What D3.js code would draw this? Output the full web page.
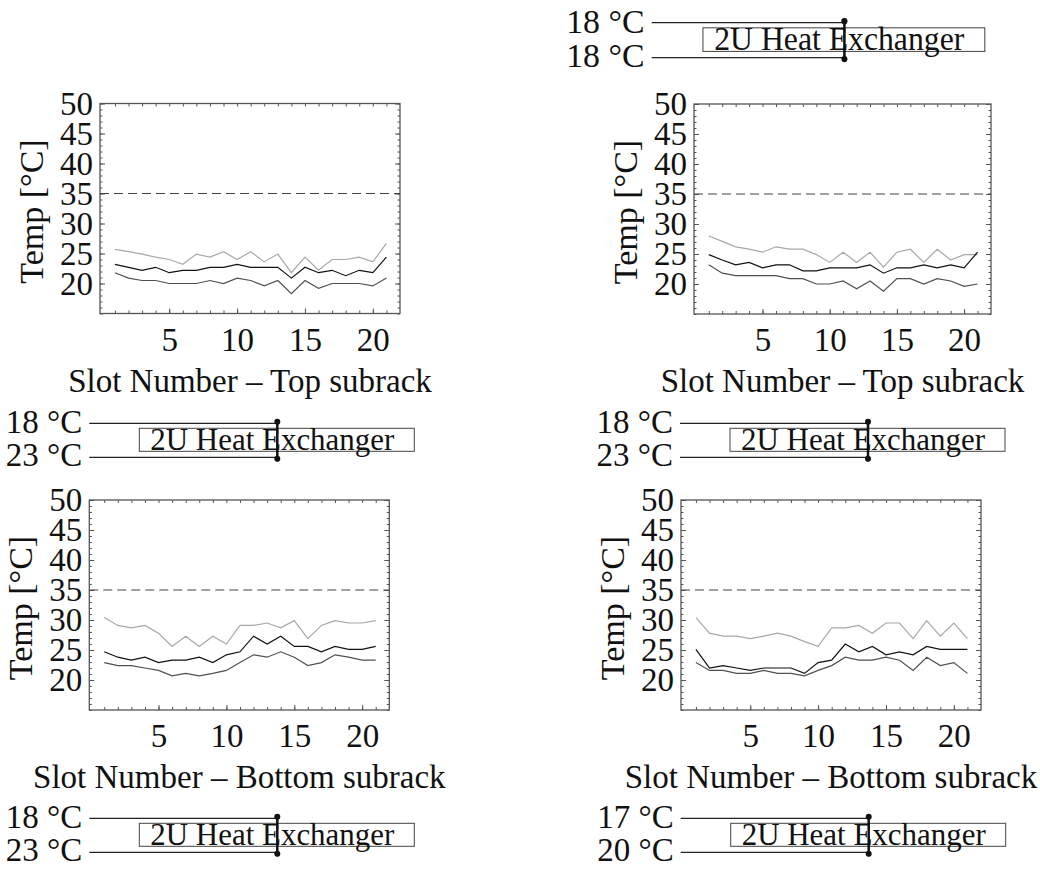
<!DOCTYPE html>
<html>
<head>
<meta charset="utf-8">
<script src="https://cdn.jsdelivr.net/npm/d3@7"></script>
<style>
  body { margin: 0; background: #fff; }
  text { font-family: "Liberation Serif", "Times New Roman", serif; fill: #111; }
</style>
</head>
<body>
<svg id="chart" width="1040" height="877"></svg>
<script>
// slot numbers on the x axis
const slots = [1, 2, 3, 4, 5, 6, 7, 8, 9, 10, 11, 12, 13, 14, 15, 16, 17, 18, 19, 20, 21];
const xTickLabels = [5, 10, 15, 20];
const yTickLabels = [20, 25, 30, 35, 40, 45, 50];
const limitTemp = 35;

// top subrack, left run
const topLeftMax = [25.7, 25.3, 24.9, 24.4, 24.0, 23.2, 24.9, 24.4, 25.3, 24.0, 25.3, 23.6, 24.9, 21.8, 24.4, 22.2, 24.0, 24.0, 24.4, 23.6, 26.7];
const topLeftAvg = [23.2, 22.7, 22.2, 22.7, 21.8, 22.2, 22.2, 22.7, 22.7, 23.2, 22.7, 22.7, 22.7, 20.9, 22.7, 21.8, 22.2, 21.3, 22.2, 21.8, 24.4];
const topLeftMin = [21.8, 20.9, 20.5, 20.5, 20.0, 20.0, 20.0, 20.5, 20.0, 20.9, 20.5, 19.6, 20.5, 18.3, 20.5, 19.2, 20.0, 20.0, 20.0, 19.6, 20.9];

// top subrack, right run
const topRightMax = [28.0, 27.1, 26.2, 25.8, 25.3, 26.2, 25.8, 25.8, 24.9, 23.6, 25.3, 23.6, 25.3, 22.8, 25.3, 25.8, 23.6, 25.8, 24.0, 24.9, 24.9];
const topRightAvg = [24.9, 24.0, 23.2, 23.6, 22.7, 23.2, 23.2, 22.2, 22.2, 22.7, 22.7, 22.7, 23.2, 21.8, 22.7, 22.7, 23.2, 22.7, 23.2, 22.7, 25.3];
const topRightMin = [23.2, 21.8, 21.4, 21.4, 21.4, 21.4, 20.9, 20.9, 20.0, 20.0, 20.5, 19.2, 20.5, 18.8, 20.9, 20.9, 20.0, 20.9, 20.5, 19.6, 20.0];

// bottom subrack, left run
const botLeftMax = [30.4, 29.1, 28.7, 29.1, 27.8, 25.6, 27.3, 25.6, 27.3, 26.0, 29.1, 29.1, 29.5, 28.7, 29.9, 26.9, 29.1, 29.9, 29.5, 29.5, 29.9];
const botLeftAvg = [24.7, 23.8, 23.3, 23.8, 22.9, 23.3, 23.3, 23.8, 22.9, 24.2, 24.7, 27.3, 26.0, 27.3, 25.6, 25.6, 24.7, 25.6, 25.1, 25.1, 25.6];
const botLeftMin = [22.9, 22.4, 22.4, 22.0, 21.6, 20.7, 21.1, 20.7, 21.1, 21.6, 22.9, 24.2, 23.8, 24.7, 23.8, 22.4, 22.9, 24.2, 23.8, 23.3, 23.3];

// bottom subrack, right run
const botRightMax = [30.4, 27.8, 27.3, 27.3, 26.9, 27.3, 27.8, 27.3, 26.4, 25.6, 28.7, 28.7, 29.1, 27.8, 29.5, 29.5, 26.9, 29.9, 27.3, 29.5, 26.9];
const botRightAvg = [25.1, 22.0, 22.4, 22.0, 21.6, 22.0, 22.0, 22.0, 21.1, 22.9, 23.3, 26.0, 24.7, 25.6, 24.2, 24.7, 24.2, 25.6, 25.1, 25.1, 25.1];
const botRightMin = [22.9, 21.6, 21.6, 21.1, 21.1, 21.6, 21.1, 21.1, 20.7, 21.6, 22.4, 23.8, 23.3, 23.3, 23.8, 23.3, 21.6, 23.8, 22.4, 22.9, 21.1];

// heat exchanger inlet temperatures (upper / lower pipe)
const exchUpper = [18, 18, 18, 18, 17];
const exchLower = [18, 23, 23, 23, 20];

const svg = d3.select('#chart');
const lineColors = ['#a8a8a8', '#111', '#505050'];
const frameColor = '#555';

const panels = [
  { left: 100, top: 103.5, width: 300, title: 'Slot Number \u2013 Top subrack', series: [topLeftMax, topLeftAvg, topLeftMin] },
  { left: 694, top: 104, width: 297, title: 'Slot Number \u2013 Top subrack', series: [topRightMax, topRightAvg, topRightMin] },
  { left: 89.3, top: 500, width: 300, title: 'Slot Number \u2013 Bottom subrack', series: [botLeftMax, botLeftAvg, botLeftMin] },
  { left: 681, top: 500, width: 300, title: 'Slot Number \u2013 Bottom subrack', series: [botRightMax, botRightAvg, botRightMin] }
];

const exchangers = [
  { x: 651.7, y: 22.7, s: 1.025 },
  { x: 89.3, y: 423.3, s: 1 },
  { x: 680, y: 423.3, s: 1 },
  { x: 89.3, y: 818.3, s: 1 },
  { x: 680.7, y: 818.3, s: 1 }
];

function styleAxis(g) {
  g.select('.domain').remove();
  g.selectAll('line').attr('stroke', frameColor).attr('stroke-width', 1);
  g.selectAll('text').attr('font-size', 33).attr('fill', '#111').attr('font-family', '"Liberation Serif", serif');
}

function drawPanel(p) {
  const h = 210;
  const g = svg.append('g').attr('transform', `translate(${p.left},${p.top})`);
  const x = d3.scaleLinear().domain([-0.1, 22]).range([0, p.width]);
  const y = d3.scaleLinear().domain([15, 50]).range([h, 0]);

  // minor ticks all round, pointing inward
  const minorY = d3.range(15, 51);
  g.append('g').call(d3.axisLeft(y).tickValues(minorY).tickSize(-2.5).tickFormat('')).call(styleAxis);
  g.append('g').attr('transform', `translate(${p.width},0)`)
    .call(d3.axisRight(y).tickValues(minorY).tickSize(-2.5).tickFormat('')).call(styleAxis);
  g.append('g').attr('transform', `translate(0,${h})`)
    .call(d3.axisBottom(x).tickValues(slots).tickSize(-3).tickFormat('')).call(styleAxis);
  g.append('g')
    .call(d3.axisTop(x).tickValues(slots).tickSize(-3).tickFormat('')).call(styleAxis);

  // labelled ticks
  g.append('g')
    .call(d3.axisLeft(y).tickValues(yTickLabels).tickSizeInner(-5).tickSizeOuter(0).tickPadding(7))
    .call(styleAxis);
  g.append('g').attr('transform', `translate(${p.width},0)`)
    .call(d3.axisRight(y).tickValues(yTickLabels).tickSizeInner(-5).tickSizeOuter(0).tickFormat(''))
    .call(styleAxis);
  g.append('g').attr('transform', `translate(0,${h})`)
    .call(d3.axisBottom(x).tickValues(xTickLabels).tickSizeInner(-5).tickSizeOuter(0).tickPadding(14))
    .call(styleAxis);

  g.append('rect')
    .attr('width', p.width).attr('height', h)
    .attr('fill', 'none').attr('stroke', frameColor).attr('stroke-width', 1.3);

  // limit line
  g.append('line')
    .attr('x1', 0).attr('x2', p.width)
    .attr('y1', y(limitTemp)).attr('y2', y(limitTemp))
    .attr('stroke', '#444').attr('stroke-width', 1.2).attr('stroke-dasharray', '9,5');

  const line = d3.line().x((d, i) => x(slots[i])).y(d => y(d));
  p.series.forEach((s, i) => {
    g.append('path')
      .datum(s)
      .attr('d', line)
      .attr('fill', 'none')
      .attr('stroke', lineColors[i])
      .attr('stroke-width', 1.2);
  });

  g.append('text')
    .attr('transform', `translate(-57,${h / 2 + 3}) rotate(-90)`)
    .attr('text-anchor', 'middle')
    .attr('font-size', 34)
    .text('Temp [\u00b0C]');

  g.append('text')
    .attr('x', p.width / 2)
    .attr('y', h + 78)
    .attr('text-anchor', 'middle')
    .attr('font-size', 33)
    .text(p.title);
}

function drawExchanger(e, tUp, tLow) {
  const g = svg.append('g').attr('transform', `translate(${e.x},${e.y}) scale(${e.s})`);
  const low = 34;
  const len = 188;

  g.append('text').attr('x', -7).attr('y', -1.5).attr('dy', '0.35em')
    .attr('text-anchor', 'end').attr('font-size', 33).text(tUp + ' \u00b0C');
  g.append('text').attr('x', -7).attr('y', low - 2.5).attr('dy', '0.35em')
    .attr('text-anchor', 'end').attr('font-size', 33).text(tLow + ' \u00b0C');

  [0, low].forEach(yy => {
    g.append('line').attr('x1', 0).attr('x2', len).attr('y1', yy).attr('y2', yy)
      .attr('stroke', '#222').attr('stroke-width', 1.2);
  });

  g.append('rect')
    .attr('x', 50).attr('y', 5).attr('width', 275).attr('height', 23)
    .attr('fill', 'none').attr('stroke', '#444').attr('stroke-width', 1);

  g.append('text')
    .attr('x', 61).attr('y', 27)
    .attr('font-size', 32)
    .attr('textLength', 244).attr('lengthAdjust', 'spacingAndGlyphs')
    .text('2U Heat Exchanger');

  g.append('line').attr('x1', len).attr('x2', len).attr('y1', -4).attr('y2', low + 4)
    .attr('stroke', '#111').attr('stroke-width', 2.5);
  [-1.5, low + 1.5].forEach(cy => {
    g.append('circle').attr('cx', len).attr('cy', cy).attr('r', 3).attr('fill', '#111');
  });
}

panels.forEach(drawPanel);
exchangers.forEach((e, i) => drawExchanger(e, exchUpper[i], exchLower[i]));
</script>
</body>
</html>
